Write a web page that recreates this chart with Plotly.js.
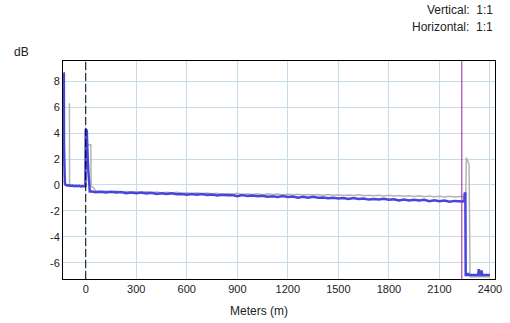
<!DOCTYPE html>
<html><head><meta charset="utf-8">
<script src="https://cdn.plot.ly/plotly-3.0.1.min.js"></script>
<style>html,body{margin:0;padding:0;background:#fff}#c{width:510px;height:323px}</style>
</head><body><div id="c"></div>
<script>
// ---- data ----
// blue trace: launch region
const blueStartX = [-133,-130,-129,-127,-124,-120,-110,-100,-90,-80,-70,-60,-50,-40,-30,-20,-10,-2,0,6,8,12,16,20,24];
const blueStartY = [8.6,8.6,2.9,0.6,0.15,0.02,-0.04,-0.02,-0.07,-0.05,-0.09,-0.06,-0.10,-0.07,-0.11,-0.08,-0.12,-0.09,4.3,4.2,2.9,2.0,1.0,-0.45,-0.5];
// blue trace: fibre body, sampled every 30 m from 30 m
const bodyStart = 30, bodyStep = 30;
const blueBodyY = [-0.49,-0.57,-0.52,-0.58,-0.52,-0.59,-0.55,-0.64,-0.58,-0.64,
 -0.58,-0.65,-0.61,-0.69,-0.64,-0.70,-0.64,-0.71,-0.69,-0.76,
 -0.69,-0.75,-0.70,-0.78,-0.74,-0.81,-0.75,-0.80,-0.78,-0.86,
 -0.78,-0.86,-0.82,-0.87,-0.83,-0.91,-0.87,-0.92,-0.86,-0.93,
 -0.89,-0.98,-0.92,-0.98,-0.92,-0.98,-0.96,-1.03,-0.98,-1.05,
 -1.01,-1.08,-1.01,-1.08,-1.04,-1.13,-1.08,-1.13,-1.07,-1.14,
 -1.10,-1.20,-1.13,-1.20,-1.14,-1.20,-1.15,-1.25,-1.19,-1.25,
 -1.20,-1.30,-1.23,-1.30];
// blue trace: end region
const blueEndX = [2235,2248,2250,2254,2256,2268,2270,2272,2330,2334,2338,2346,2350,2354,2400];
const blueEndY = [-1.28,-1.25,-0.6,-0.65,-6.95,-6.95,-6.8,-6.95,-6.95,-6.5,-6.95,-6.95,-6.6,-6.95,-6.95];

// gray trace
const grayStartX = [-97,-96,-90,-80,-70,-60,-50,-40,-30,-20,-10,-2,0,12,30,32,45];
const grayStartY = [6.3,0.1,0.0,-0.03,-0.02,-0.06,-0.04,-0.08,-0.06,-0.09,-0.07,-0.1,3.1,3.1,3.1,-0.1,-0.2];
const grayBodyStart = 60, grayBodyStep = 30;
const grayBodyY = [-0.45,-0.51,-0.46,-0.52,-0.46,-0.54,-0.50,-0.55,-0.51,-0.58,
 -0.51,-0.58,-0.54,-0.61,-0.57,-0.62,-0.56,-0.64,-0.60,-0.65,
 -0.61,-0.68,-0.62,-0.68,-0.64,-0.71,-0.66,-0.71,-0.65,-0.73,
 -0.68,-0.73,-0.68,-0.75,-0.68,-0.74,-0.70,-0.76,-0.72,-0.76,
 -0.71,-0.78,-0.74,-0.78,-0.73,-0.80,-0.73,-0.80,-0.75,-0.82,
 -0.77,-0.82,-0.76,-0.84,-0.79,-0.84,-0.79,-0.86,-0.80,-0.86,
 -0.82,-0.88,-0.84,-0.89,-0.83,-0.91,-0.86,-0.91,-0.87,-0.93,
 -0.87,-0.93,-0.90];
const grayEndX = [2240,2256,2260,2264,2270,2276,2282,2400];
const grayEndY = [-0.93,-0.9,2.1,1.9,1.8,1.6,-7.08,-7.08];

const xTicks = [0,300,600,900,1200,1500,1800,2100,2400];
const yTicks = [-6,-4,-2,0,2,4,6,8];
const markerA = 0, markerB = 2233;
const xRange = [-135, 2430], yRange = [-7.26, 9.57];

// ---- assemble ----
function body(start, step, ys){ return ys.map((_, i) => start + i*step); }
const blueX = blueStartX.concat(body(bodyStart, bodyStep, blueBodyY), blueEndX);
const blueY = blueStartY.concat(blueBodyY, blueEndY);
const grayX = grayStartX.concat(body(grayBodyStart, grayBodyStep, grayBodyY), grayEndX);
const grayY = grayStartY.concat(grayBodyY, grayEndY);

const font = {family: 'Liberation Sans, Arial, sans-serif', size: 11, color: '#222'};
const traces = [
  {x: grayX, y: grayY, mode: 'lines', line: {color: '#b4b4b4', width: 1.5}, hoverinfo: 'skip'},
  {x: blueX, y: blueY, mode: 'lines', line: {color: '#4646dc', width: 2.5}, hoverinfo: 'skip'}
];
const layout = {
  width: 510, height: 323,
  margin: {l: 63, r: 15, t: 61, b: 44, pad: 0},
  paper_bgcolor: '#fff', plot_bgcolor: '#fff',
  showlegend: false, font: font,
  xaxis: {range: xRange, tickvals: xTicks, ticktext: xTicks.map(String), showgrid: true,
    gridcolor: '#c6dce9', gridwidth: 1, zeroline: false, showline: true, linecolor: '#000',
    linewidth: 1, mirror: true, ticks: '', tickfont: font},
  yaxis: {range: yRange, tickvals: yTicks, ticktext: yTicks.map(String), showgrid: true,
    gridcolor: '#c6dce9', gridwidth: 1, zeroline: false, showline: true, linecolor: '#000',
    linewidth: 1, mirror: true, ticks: '', tickfont: font},
  shapes: [
    {type: 'line', xref: 'x', yref: 'paper', x0: markerA, x1: markerA, y0: 0, y1: 1,
     line: {color: '#000', width: 1, dash: '8px,3px'}},
    {type: 'line', xref: 'x', yref: 'paper', x0: markerB, x1: markerB, y0: 0, y1: 1,
     line: {color: '#a020a0', width: 1}}
  ],
  annotations: [
    {text: 'Meters (m)', xref: 'paper', yref: 'paper', x: 0.4537, y: -0.147, showarrow: false,
     xanchor: 'center', yanchor: 'middle', font: {family: font.family, size: 12, color: '#222'}},
    {text: 'dB', xref: 'paper', yref: 'paper', x: -0.118, y: 1.041, showarrow: false,
     xanchor: 'left', yanchor: 'middle', font: {family: font.family, size: 12, color: '#222'}},
    {text: 'Vertical:  1:1', xref: 'paper', yref: 'paper', x: 1, y: 1.234, showarrow: false,
     xanchor: 'right', yanchor: 'middle', font: {family: font.family, size: 12, color: '#222'}},
    {text: 'Horizontal:  1:1', xref: 'paper', yref: 'paper', x: 1, y: 1.156, showarrow: false,
     xanchor: 'right', yanchor: 'middle', font: {family: font.family, size: 12, color: '#222'}}
  ]
};
Plotly.newPlot('c', traces, layout, {staticPlot: true, displayModeBar: false});
</script></body></html>
